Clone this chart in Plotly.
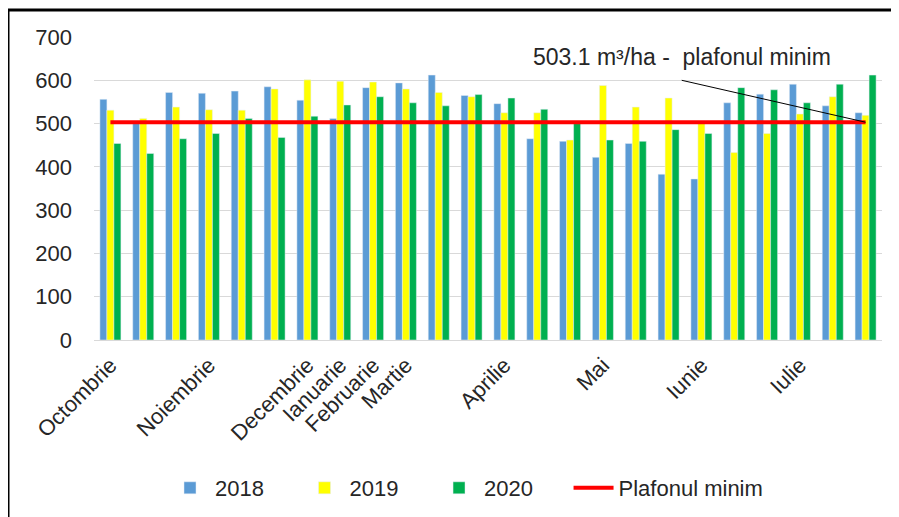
import plotly.graph_objects as go

# ---- data ----
groups = list(range(1, 25))
v2018 = [556, 500, 572, 570, 575, 585, 554, 512, 583, 594, 612, 565,
         546, 465, 459, 422, 454, 383, 372, 548, 568, 591, 541, 525]
v2019 = [531, 512, 538, 532, 531, 580, 601, 598, 596, 580, 572, 562,
         525, 525, 462, 588, 538, 559, 505, 433, 477, 522, 562, 519]
v2020 = [454, 431, 465, 477, 512, 468, 517, 543, 562, 548, 541, 567,
         559, 533, 500, 462, 459, 486, 477, 583, 578, 548, 591, 612]
plafon_value = 503.1
month_positions = [1, 4, 7, 8, 9, 10, 13, 16, 19, 22]
month_labels = ["Octombrie", "Noiembrie", "Decembrie", "Ianuarie", "Februarie",
                "Martie", "Aprilie", "Mai", "Iunie", "Iulie"]
y_ticks = [0, 100, 200, 300, 400, 500, 600, 700]
series_names = ["2018", "2019", "2020", "Plafonul minim"]

FONT = "Liberation Sans"
TXT = "#262626"
PAD = "\u00a0" * 5   # legend spacing

fig = go.Figure()
fig.add_trace(go.Bar(x=groups, y=v2018, name=series_names[0] + PAD, marker_color="#5B9BD5"))
fig.add_trace(go.Bar(x=groups, y=v2019, name=series_names[1] + PAD, marker_color="#FFFF00"))
fig.add_trace(go.Bar(x=groups, y=v2020, name=series_names[2] + PAD, marker_color="#00B050"))
fig.add_trace(go.Scatter(x=groups, y=[plafon_value] * len(groups), mode="lines",
                         name=series_names[3], line=dict(color="#FF0000", width=4)))

# the page body adds an 8px offset; work in screenshot pixels
OFF = 8
W, H = 899 - OFF, 517 - OFF
L, R, T, B = 94, 882, 37, 340      # plot area in screenshot pixels
pw, ph = R - L, B - T

def px(xp):
    return (xp - L) / pw

def py(yp):
    return (B - yp) / ph

fig.update_layout(
    width=W, height=H,
    margin=dict(l=L - OFF, r=(899 - R), t=T - OFF, b=(517 - B), autoexpand=False),
    paper_bgcolor="white", plot_bgcolor="white",
    barmode="group", bargap=0.36, bargroupgap=0,
    font=dict(family=FONT, size=22, color=TXT),
    xaxis=dict(range=[0.5, 24.5], tickvals=month_positions, ticktext=month_labels,
               tickangle=-45, showgrid=False, zeroline=False, showline=False,
               ticks="", ticklabelstandoff=7, automargin=False,
               tickfont=dict(family=FONT, size=22, color=TXT)),
    yaxis=dict(range=[0, 700], tickvals=y_ticks, showgrid=True, gridcolor="#D9D9D9",
               gridwidth=1, zeroline=True, zerolinecolor="#D9D9D9", zerolinewidth=1,
               showline=False, ticks="", ticklabelstandoff=21, automargin=False,
               tickfont=dict(family=FONT, size=22, color=TXT)),
    legend=dict(orientation="h", x=px(165), y=py(488), xanchor="left", yanchor="middle",
                font=dict(family=FONT, size=22, color=TXT), itemwidth=40,
                traceorder="normal", bgcolor="rgba(0,0,0,0)"),
    showlegend=True,
)

fig.add_annotation(x=18.4, y=653, xref="x", yref="y", text="503.1 m³/ha -  plafonul minim",
                   showarrow=False, font=dict(family=FONT, size=23, color=TXT),
                   xanchor="center", yanchor="middle")
fig.add_shape(type="line", xref="x", yref="y", x0=18.4, y0=600, x1=24, y1=plafon_value,
              line=dict(color="#000000", width=1))

# outer frame
fig.add_shape(type="line", xref="paper", yref="paper", x0=px(8), x1=px(8), y0=py(530), y1=py(9),
              line=dict(color="#000000", width=3))
fig.add_shape(type="line", xref="paper", yref="paper", x0=px(7), x1=px(910), y0=py(10), y1=py(10),
              line=dict(color="#000000", width=3))

fig.write_html("out.html")
